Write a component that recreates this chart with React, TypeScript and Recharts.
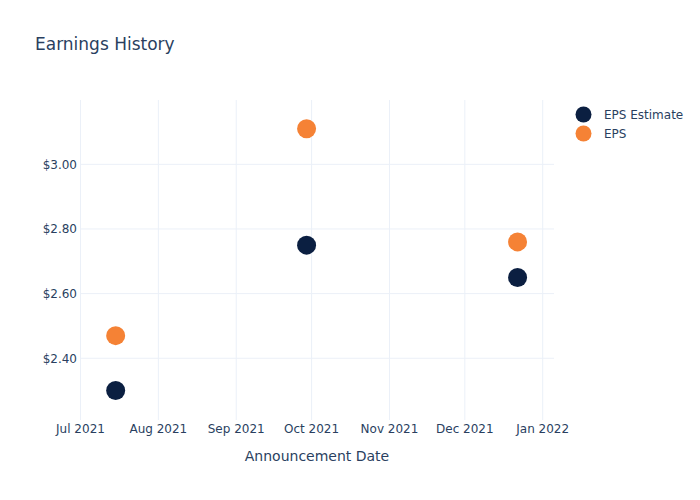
import { ScatterChart, Scatter, XAxis, YAxis, CartesianGrid } from 'recharts';

const dates = ['2021-07-15', '2021-09-29', '2021-12-22'];
const epsEstimate = [2.3, 2.75, 2.65];
const epsActual = [2.47, 3.11, 2.76];
const monthTicks = ['2021-07-01', '2021-08-01', '2021-09-01', '2021-10-01', '2021-11-01', '2021-12-01', '2022-01-01'];
const yTicks = [2.4, 2.6, 2.8, 3.0];

const MONTHS = ['Jan', 'Feb', 'Mar', 'Apr', 'May', 'Jun', 'Jul', 'Aug', 'Sep', 'Oct', 'Nov', 'Dec'];
const toTime = (d: string) => Date.parse(d + 'T00:00:00Z');
const DAY = 86400000;

const estimateData = dates.map((d, i) => ({ x: toTime(d), y: epsEstimate[i] }));
const epsData = dates.map((d, i) => ({ x: toTime(d), y: epsActual[i] }));

const NAVY = '#0b1f41';
const ORANGE = '#f58235';
const TEXT = '#2a3f5f';
const GRID = '#ebf0f8';
const FONT = '"DejaVu Sans", Verdana, sans-serif';

const formatMonth = (t: number) => {
  const d = new Date(t);
  return `${MONTHS[d.getUTCMonth()]} ${d.getUTCFullYear()}`;
};

const dot = (color: string) => (props: any) => (
  <circle cx={props.cx} cy={props.cy} r={9.5} fill={color} />
);

export default function App() {
  const xDomain = [toTime('2021-07-01') - 0.2 * DAY, toTime('2022-01-01') + 4.5 * DAY];
  return (
    <div style={{ position: 'absolute', left: 0, top: 0, width: 700, height: 500, background: '#fff', fontFamily: FONT }}>
      <div style={{ position: 'absolute', left: 35, top: 34, fontSize: 17, color: TEXT, whiteSpace: 'nowrap' }}>
        Earnings History
      </div>
      <ScatterChart width={700} height={500} margin={{ top: 100, right: 146, bottom: 35, left: 20 }}>
        <CartesianGrid stroke={GRID} strokeWidth={1} syncWithTicks />
        <XAxis
          type="number"
          dataKey="x"
          domain={xDomain}
          ticks={monthTicks.map(toTime)}
          tickFormatter={formatMonth}
          allowDataOverflow
          axisLine={false}
          tickLine={false}
          tickSize={0}
          tickMargin={4}
          height={45}
          tick={{ fill: TEXT, fontSize: 12, fontFamily: FONT }}
          label={{ value: 'Announcement Date', position: 'insideBottom', offset: 4, fill: TEXT, fontSize: 14, fontFamily: FONT }}
        />
        <YAxis
          type="number"
          dataKey="y"
          domain={[2.209, 3.199]}
          ticks={yTicks}
          allowDataOverflow
          tickFormatter={(v: number) => `$${v.toFixed(2)}`}
          axisLine={false}
          tickLine={false}
          tickSize={0}
          tickMargin={3}
          width={60}
          tick={{ fill: TEXT, fontSize: 12, fontFamily: FONT }}
        />
        <Scatter name="EPS Estimate" data={estimateData} fill={NAVY} shape={dot(NAVY)} isAnimationActive={false} />
        <Scatter name="EPS" data={epsData} fill={ORANGE} shape={dot(ORANGE)} isAnimationActive={false} />
      </ScatterChart>
      <div style={{ position: 'absolute', left: 575, top: 105, fontSize: 12, color: TEXT }}>
        {[['EPS Estimate', NAVY], ['EPS', ORANGE]].map(([name, color]) => (
          <div key={name} style={{ display: 'flex', alignItems: 'center', height: 19 }}>
            <svg width={17} height={17} style={{ marginRight: 12 }}>
              <circle cx={8.5} cy={8.5} r={8} fill={color} />
            </svg>
            <span>{name}</span>
          </div>
        ))}
      </div>
    </div>
  );
}
